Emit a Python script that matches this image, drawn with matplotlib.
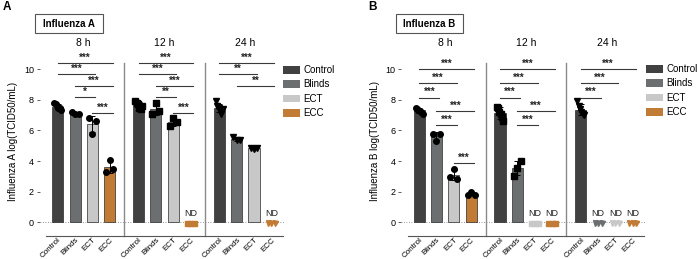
import matplotlib.pyplot as plt
import matplotlib.transforms as mtrans
import numpy as np
from matplotlib.patches import Rectangle, Patch

plt.rcParams['font.family'] = ['Liberation Sans', 'DejaVu Sans']

groups = ['Control', 'Blinds', 'ECT', 'ECC']
times = ['8 h', '12 h', '24 h']
colors = ['#414141', '#6c6f6f', '#c8c8c8', '#c27b34']
markers = ['o', 's', 'v']

# log(TCID50/mL) per replicate, None = not detected (ND)
fluA_8h = [[7.8, 7.7, 7.6, 7.5, 7.45, 7.35], [7.2, 7.1, 7.1], [6.8, 5.8, 6.6], [3.3, 4.1, 3.5]]
fluA_12h = [[7.9, 7.8, 7.7, 7.5, 7.4, 7.6], [7.06, 7.82, 7.27], [6.3, 6.8, 6.58], None]
fluA_24h = [[7.9, 7.6, 7.5, 7.3, 7.1, 7.4], [5.6, 5.4, 5.35], [4.85, 4.8, 4.85], None]

fluB_8h = [[7.5, 7.4, 7.35, 7.3, 7.2, 7.1], [5.8, 5.3, 5.8], [2.98, 3.48, 2.8], [1.8, 1.95, 1.8]]
fluB_12h = [[7.55, 7.5, 7.2, 7.1, 6.9, 6.6], [3.05, 3.57, 4.0], None, None]
fluB_24h = [[7.9, 7.6, 7.4, 7.2, 7.1, 7.0], None, None, None]

# comparisons per time point (group i, group j, stars), top to bottom
sigA = [[(0, 3, '***'), (0, 2, '***'), (1, 3, '***'), (1, 2, '*'), (2, 3, '***')],
        [(0, 3, '***'), (0, 2, '***'), (1, 3, '***'), (1, 2, '**'), (2, 3, '***')],
        [(0, 3, '***'), (0, 2, '**'), (1, 3, '**')]]
sigB = [[(0, 3, '***'), (0, 2, '***'), (0, 1, '***'), (1, 3, '***'), (1, 2, '***'), (2, 3, '***')],
        [(0, 3, '***'), (0, 2, '***'), (0, 1, '***'), (1, 3, '***'), (1, 2, '***')],
        [(0, 3, '***'), (0, 2, '***'), (0, 1, '***')]]

levelsA = [10.4, 9.69, 8.91, 8.19, 7.12]
levelsB = [10.0, 9.08, 8.15, 7.25, 6.36, 3.85]

GAP = 4.67
LINE = '#3a3a3a'


def draw_panel(ax, data, sig, levels, ylabel):
    ticks = []
    for t in range(3):
        for g in range(4):
            x = t * GAP + g
            ticks.append(x)
            vals = data[t][g]
            if vals is None:
                offs = np.array([-0.2, 0.0, 0.2])
                ax.plot(x + offs, [-0.08] * 3, ls='none', marker=markers[t],
                        ms=3.6, color=colors[g], mec=colors[g], clip_on=False, zorder=3)
                ax.text(x, 0.3, 'ND', ha='center', va='bottom', fontsize=6.5, color='#222222')
                continue
            vals = np.array(vals)
            m = vals.mean()
            sd = vals.std(ddof=1)
            ax.bar(x, m, width=0.64, color=colors[g], edgecolor='#2a2a2a', linewidth=0.5, zorder=2)
            ax.errorbar(x, m, yerr=sd, color='black', lw=0.7, capsize=2, capthick=0.7, zorder=3)
            offs = np.linspace(-0.2, 0.2, len(vals))
            ax.plot(x + offs, vals, ls='none', marker=markers[t], ms=4, color='black', zorder=4)
        # significance bars
        for k, (i, j, s) in enumerate(sig[t]):
            y = levels[k]
            x1 = t * GAP + i
            x2 = t * GAP + j + 0.17
            ax.plot([x1, x2], [y, y], color=LINE, lw=0.8, clip_on=False)
            ax.text((x1 + x2) / 2, y + 0.02, s, ha='center', va='bottom', fontsize=7,
                    fontweight='bold', color='#222222')
        ax.text(t * GAP + 1.5, 11.7, times[t], ha='center', va='center', fontsize=7.5, clip_on=False)
        if t < 2:
            xd = t * GAP + 3 + (GAP - 3) / 2
            ax.plot([xd, xd], [-0.88, 10.4], color='#8a8a8a', lw=1.0, clip_on=False)

    ax.axhline(0, color='#777777', lw=0.6, ls=(0, (1, 2)), zorder=1)
    ax.set_xlim(-1.05, 13.05)
    ax.set_ylim(-0.88, 11.5)
    ax.set_yticks([0, 2, 4, 6, 8, 10])
    ax.set_xticks(ticks)
    ax.set_xticklabels(groups * 3, rotation=45, ha='right', va='top', rotation_mode='anchor')
    shift = mtrans.ScaledTranslation(4 / 72, 1 / 72, ax.figure.dpi_scale_trans)
    for lab in ax.get_xticklabels():
        lab.set_transform(lab.get_transform() + shift)
    ax.tick_params(axis='x', length=0, labelsize=5.8, pad=0.5)
    ax.tick_params(axis='y', length=2.5, width=0.6, labelsize=6.5, pad=1.5, color='#444444')
    for sp in ['top', 'right', 'left']:
        ax.spines[sp].set_visible(False)
    ax.spines['bottom'].set_bounds(-0.67, 13.0)
    ax.spines['bottom'].set_color('#555555')
    ax.spines['bottom'].set_linewidth(0.8)
    ax.set_ylabel(ylabel, fontsize=7, labelpad=4)


fig = plt.figure(figsize=(6.97, 2.59), dpi=100)
W, H = 697, 259
bottom = 1 - 235.7 / H
height = (235.7 - 46.35) / H

axA = fig.add_axes([39.6 / W, bottom, 244 / W, height])
axB = fig.add_axes([401 / W, bottom, 244 / W, height])

draw_panel(axA, [fluA_8h, fluA_12h, fluA_24h], sigA, levelsA, 'Influenza A log(TCID50/mL)')
draw_panel(axB, [fluB_8h, fluB_12h, fluB_24h], sigB, levelsB, 'Influenza B log(TCID50/mL)')

handles = [Patch(facecolor=c, edgecolor='none') for c in colors]
for lx, ly in [(283, 65), (646, 64)]:
    fig.legend(handles, groups, loc='upper left', bbox_to_anchor=(lx / W, 1 - ly / H),
               frameon=False, fontsize=7, handlelength=1.75, handleheight=0.85,
               handletextpad=0.35, labelspacing=0.45, borderpad=0, borderaxespad=0)

# panel letters and title boxes
for letter, lx in [('A', 3), ('B', 368)]:
    fig.text(lx / W, 1 - 7 / H, letter, fontsize=8.5, fontweight='bold', va='center')
for name, x0, x1 in [('Influenza A', 35, 102.7), ('Influenza B', 395.7, 463.3)]:
    fig.add_artist(Rectangle((x0 / W, 1 - 33.3 / H), (x1 - x0) / W, 19 / H,
                             transform=fig.transFigure, fill=False, ec='#555555', lw=0.8))
    fig.text((x0 + x1) / 2 / W, 1 - 24 / H, name, fontsize=7, fontweight='bold',
             ha='center', va='center')

fig.savefig('out.png', dpi=100)
